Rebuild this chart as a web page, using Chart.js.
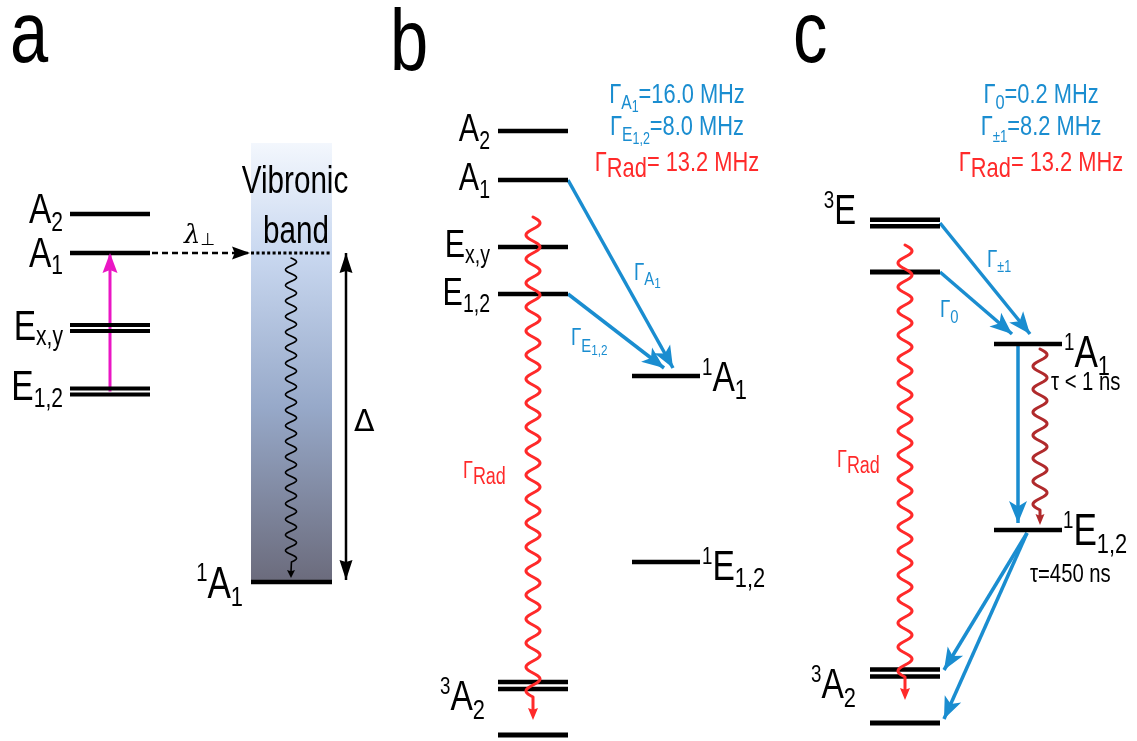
<!DOCTYPE html>
<html>
<head>
<meta charset="utf-8">
<title>NV centre level schemes</title>
<script src="https://cdn.jsdelivr.net/npm/chart.js@4.4.1/dist/chart.umd.min.js"></script>
<style>
  html, body { margin: 0; padding: 0; background: #ffffff; overflow: hidden; }
  #wrap { width: 1137px; height: 741px; }
</style>
</head>
<body>
<div id="wrap"><canvas id="chart" width="1137" height="741"></canvas></div>
<script>
// ---------------------------------------------------------------
// Level energies (diagram units, counted downward from the top)
// ---------------------------------------------------------------
const panelTags = ['a', 'b', 'c'];

// (a) excited-state fine structure and the phonon sideband
const aLevelNames  = ['A2', 'A1', 'Ex,y', 'E1,2'];
const aLevelEnergy = [214, 253, 328, 391.5];
const aLevelSplit  = [0, 0, 6, 6];
const aBandEnergy  = [143, 582];          // top of vibronic band, 1A1 floor

// (b) low-temperature picture
const bTripletNames  = ['A2', 'A1', 'Ex,y', 'E1,2'];
const bTripletEnergy = [131, 180, 247, 294];
const bSingletEnergy = [376, 562];
const bGroundEnergy  = [685.5, 735];
const bGroundSplit   = [7, 0];
const bRateValues    = ['16.0', '8.0', '13.2'];   // MHz: A1, E1,2, radiative

// (c) room-temperature picture
const cTripletEnergy = [223, 272];
const cTripletSplit  = [6.5, 0];
const cSingletEnergy = [344, 530];
const cGroundEnergy  = [673, 723];
const cGroundSplit   = [7, 0];
const cRateValues    = ['0.2', '8.2', '13.2'];    // MHz: ms=0, ms=±1, radiative
const cLifetimes     = ['< 1', '=450'];           // ns: 1A1, 1E1,2

// ---------------------------------------------------------------
// Layout
// ---------------------------------------------------------------
const W = 1137, H = 741;
const FONT = "'Liberation Sans', Arial, sans-serif";
const NARROW = 0.78;   // horizontal squeeze for the condensed look
const COL = {
  aL: [70, 150], aBand: [251, 332],
  bL: [498, 568], bR: [632, 700],
  cL: [870, 940], cR: [994, 1062]
};
const BLACK = '#000000', BLUE = '#1a8dd0', RED = '#ff2a2a', DARKRED = '#b02a2c', MAGENTA = '#ea16c4';

const datasets = [];

function levelSet(col, energies, splits, width) {
  energies.forEach((e, i) => {
    const s = splits ? splits[i] : 0;
    const ys = s ? [e - s / 2, e + s / 2] : [e];
    ys.forEach(y => datasets.push({
      data: [{ x: col[0], y: y }, { x: col[1], y: y }],
      showLine: true, borderColor: BLACK, borderWidth: s ? width - 0.5 : width,
      borderCapStyle: 'butt', pointRadius: 0
    }));
  });
}

function arrow(p0, p1, color, width, head, extra) {
  datasets.push(Object.assign({
    data: [{ x: p0[0], y: p0[1] }, { x: p1[0], y: p1[1] }],
    showLine: true, borderColor: color, borderWidth: width,
    borderCapStyle: 'butt', pointRadius: 0, arrowHead: Object.assign({ color: color }, head)
  }, extra || {}));
}

function wave(x, y0, y1, color, opts) {
  datasets.push({
    data: [{ x: x, y: y0 }, { x: x, y: y1 }],
    showLine: false, pointRadius: 0,
    waveLine: Object.assign({ color: color }, opts)
  });
}

// levels
levelSet(COL.aL, aLevelEnergy, aLevelSplit, 4.5);
levelSet(COL.aBand, [aBandEnergy[1]], null, 4.5);
levelSet(COL.bL, bTripletEnergy, null, 4.5);
levelSet(COL.bR, bSingletEnergy, null, 4.5);
levelSet(COL.bL, bGroundEnergy, bGroundSplit, 5);
levelSet(COL.cL, cTripletEnergy, cTripletSplit, 5);
levelSet(COL.cR, cSingletEnergy, null, 4.5);
levelSet(COL.cL, cGroundEnergy, cGroundSplit, 5);

// (a) transitions
const blueHead = { len: 22, wid: 18, notch: 0.25 };
arrow([110, aLevelEnergy[3]], [110, aLevelEnergy[1]], MAGENTA, 3, { len: 20, wid: 15, notch: 0.15 });
arrow([152, aLevelEnergy[1]], [250, aLevelEnergy[1]], BLACK, 2.5, { len: 18, wid: 13, notch: 0.15 }, { borderDash: [6, 4] });
datasets.push({
  data: [{ x: COL.aBand[0], y: aLevelEnergy[1] }, { x: COL.aBand[1], y: aLevelEnergy[1] }],
  showLine: true, borderColor: BLACK, borderWidth: 3, borderDash: [3, 2.4], pointRadius: 0
});
arrow([346, aLevelEnergy[1]], [346, aBandEnergy[1] - 2], BLACK, 2.5, { len: 20, wid: 13, notch: 0.1, both: true });
wave(291, aLevelEnergy[1] + 5, aBandEnergy[1] - 4, BLACK, { amp: 5.5, period: 15.6, lw: 1.6, len: 8, wid: 8 });

// (b) transitions
arrow([COL.bL[1], bTripletEnergy[1]], [673, bSingletEnergy[0] - 8], BLUE, 3.5, blueHead);
arrow([COL.bL[1], bTripletEnergy[3]], [664, bSingletEnergy[0] - 8], BLUE, 3.5, blueHead);
wave(533, 217, 720, RED, { amp: 7, period: 24, lw: 3, len: 12, wid: 10 });

// (c) transitions
arrow([COL.cL[1], cTripletEnergy[0]], [1030, cSingletEnergy[0] - 10], BLUE, 3.5, blueHead);
arrow([COL.cL[1], cTripletEnergy[1]], [1012, cSingletEnergy[0] - 10], BLUE, 3.5, blueHead);
arrow([1018, cSingletEnergy[0] + 2], [1018, cSingletEnergy[1] - 7], BLUE, 3.5, blueHead);
arrow([1027, cSingletEnergy[1] + 3], [944, cGroundEnergy[0] - 3], BLUE, 3.5, blueHead);
arrow([1027, cSingletEnergy[1] + 3], [944, cGroundEnergy[1] - 4], BLUE, 3.5, blueHead);
wave(905, 245, 700, RED, { amp: 7, period: 24, lw: 3, len: 12, wid: 10 });
wave(1040, cSingletEnergy[0] + 5, cSingletEnergy[1] - 5, DARKRED, { amp: 7, period: 23, lw: 3, len: 11, wid: 9 });

// ---------------------------------------------------------------
// Plugins
// ---------------------------------------------------------------
function drawHead(ctx, p0, p1, h) {
  const ang = Math.atan2(p1.y - p0.y, p1.x - p0.x);
  ctx.save();
  ctx.translate(p1.x, p1.y);
  ctx.rotate(ang);
  ctx.fillStyle = h.color;
  ctx.beginPath();
  ctx.moveTo(0, 0);
  ctx.lineTo(-h.len, -h.wid / 2);
  ctx.lineTo(-h.len * (1 - h.notch), 0);
  ctx.lineTo(-h.len, h.wid / 2);
  ctx.closePath();
  ctx.fill();
  ctx.restore();
}

const bandPlugin = {
  id: 'vibronicBand',
  beforeDatasetsDraw(chart) {
    const { ctx, scales: { x, y } } = chart;
    const x0 = x.getPixelForValue(COL.aBand[0]), x1 = x.getPixelForValue(COL.aBand[1]);
    const y0 = y.getPixelForValue(aBandEnergy[0]), y1 = y.getPixelForValue(aBandEnergy[1]);
    const g = ctx.createLinearGradient(0, y0, 0, y1);
    g.addColorStop(0, '#f3f7fd');
    g.addColorStop(0.25, '#c9d8f0');
    g.addColorStop(0.6, '#97a9c9');
    g.addColorStop(1, '#6b6b7c');
    ctx.save();
    ctx.fillStyle = g;
    ctx.fillRect(x0, y0, x1 - x0, y1 - y0);
    ctx.restore();
  }
};

const markPlugin = {
  id: 'marks',
  afterDatasetsDraw(chart) {
    const ctx = chart.ctx;
    chart.data.datasets.forEach((ds, i) => {
      const pts = chart.getDatasetMeta(i).data;
      if (ds.arrowHead) {
        drawHead(ctx, pts[0], pts[1], ds.arrowHead);
        if (ds.arrowHead.both) drawHead(ctx, pts[1], pts[0], ds.arrowHead);
      }
      if (ds.waveLine) {
        const w = ds.waveLine;
        const cx = pts[0].x, ya = pts[0].y, tip = pts[1].y;
        const avail = tip - ya - w.len - 4;
        const half = w.period / 2;
        const span = Math.floor(avail / half) * half;
        ctx.save();
        ctx.strokeStyle = w.color;
        ctx.lineWidth = w.lw;
        ctx.lineJoin = 'round';
        ctx.lineCap = 'round';
        ctx.beginPath();
        for (let s = 0; s <= span; s += 0.5) {
          const px = cx + w.amp * Math.sin(2 * Math.PI * s / w.period);
          if (s === 0) ctx.moveTo(px, ya + s); else ctx.lineTo(px, ya + s);
        }
        ctx.lineTo(cx, tip - w.len + 2);
        ctx.stroke();
        ctx.restore();
        drawHead(ctx, { x: cx, y: tip - 10 }, { x: cx, y: tip }, { color: w.color, len: w.len, wid: w.wid, notch: 0.15 });
      }
    });
  }
};

// rich text: runs of [text, size, dy, family?, style?]
function rich(ctx, runs, x, y, align, color) {
  let total = 0;
  const fam = r => `${r[4] || ''} ${r[1]}px ${r[3] || FONT}`;
  runs.forEach(r => {
    ctx.font = fam(r);
    r.sx = r[3] ? 1 : NARROW;
    r.w = ctx.measureText(r[0]).width * r.sx;
    total += r.w;
  });
  let cx = align === 'right' ? x - total : align === 'center' ? x - total / 2 : x;
  ctx.fillStyle = color || BLACK;
  ctx.textAlign = 'left';
  ctx.textBaseline = 'alphabetic';
  runs.forEach(r => {
    ctx.font = fam(r);
    ctx.save();
    ctx.translate(cx, y + r[2]);
    ctx.scale(r.sx, 1);
    ctx.fillText(r[0], 0, 0);
    ctx.restore();
    cx += r.w;
  });
}

const textPlugin = {
  id: 'labels',
  afterDraw(chart) {
    const { ctx, scales: { x, y } } = chart;
    const T = (runs, vx, vy, align, color) => rich(ctx, runs, x.getPixelForValue(vx), y.getPixelForValue(vy), align, color);
    ctx.save();

    // panel tags
    T([[panelTags[0], 88, 0]], 10, 62, 'left');
    T([[panelTags[1], 88, 0]], 390, 70, 'left');
    T([[panelTags[2], 88, 0]], 793, 62, 'left');

    // (a) state labels
    T([['A', 43, 0], ['2', 27, 8]], 63, 223, 'right');
    T([['A', 43, 0], ['1', 27, 7]], 63, 267, 'right');
    T([['E', 43, 0], ['x,y', 27, 5]], 63, 340, 'right');
    T([['E', 43, 0], ['1,2', 27, 7]], 63, 400, 'right');
    T([['1', 26, -17], ['A', 45, 0], ['1', 28, 8]], 243, 598, 'right');
    T([['Vibronic', 38, 0]], 295, 193, 'center');
    T([['band', 38, 0]], 296, 243, 'center');
    T([['\u03bb', 26, 0, "'DejaVu Serif', serif", 'italic'], ['\u22a5', 17, 2, "'DejaVu Sans', sans-serif"]], 184, 243, 'left');
    T([['\u0394', 30, 0, "'DejaVu Sans', sans-serif"]], 354, 431, 'left');

    // (b) labels
    T([['A', 39, 0], ['2', 25, 8]], 490, 141, 'right');
    T([['A', 39, 0], ['1', 25, 8]], 490, 190, 'right');
    T([['E', 39, 0], ['x,y', 25, 6]], 490, 257, 'right');
    T([['E', 39, 0], ['1,2', 25, 7]], 490, 305, 'right');
    T([['1', 24, -16], ['A', 43, 0], ['1', 28, 8]], 702, 391, 'left');
    T([['1', 24, -16], ['E', 43, 0], ['1,2', 28, 7]], 702, 580, 'left');
    T([['3', 24, -16], ['A', 43, 0], ['2', 28, 9]], 485, 710, 'right');
    T([['\u0393', 23, 0], ['Rad', 23, 6]], 463, 478, 'left', RED);
    T([['\u0393', 24, 0], ['A', 19, 5], ['1', 15, 8]], 634, 280, 'left', BLUE);
    T([['\u0393', 24, 0], ['E', 19, 7], ['1,2', 15, 10]], 571, 345, 'left', BLUE);
    T([['\u0393', 28, 0], ['A', 20, 6], ['1', 16, 9], ['=' + bRateValues[0] + ' MHz', 28, 0]], 677, 103, 'center', BLUE);
    T([['\u0393', 28, 0], ['E', 20, 6], ['1,2', 16, 9], ['=' + bRateValues[1] + ' MHz', 28, 0]], 677, 135, 'center', BLUE);
    T([['\u0393', 28, 0], ['Rad', 28, 6], ['= ' + bRateValues[2] + ' MHz', 28, 0]], 677, 171, 'center', RED);

    // (c) labels
    T([['3', 24, -16], ['E', 42, 0]], 856, 224, 'right');
    T([['1', 24, -17], ['A', 45, 0], ['1', 28, 8]], 1064, 367, 'left');
    T([['\u03c4 ' + cLifetimes[0] + ' ns', 26, 0]], 1051, 390, 'left');
    T([['1', 24, -17], ['E', 45, 0], ['1,2', 28, 8]], 1063, 545, 'left');
    T([['\u03c4' + cLifetimes[1] + ' ns', 26, 0]], 1030, 582, 'left');
    T([['3', 24, -16], ['A', 43, 0], ['2', 28, 9]], 856, 698, 'right');
    T([['\u0393', 23, 0], ['Rad', 23, 6]], 837, 467, 'left', RED);
    T([['\u0393', 24, 0], ['\u00b11', 16, 5]], 987, 267, 'left', BLUE);
    T([['\u0393', 24, 0], ['0', 19, 6]], 940, 317, 'left', BLUE);
    T([['\u0393', 28, 0], ['0', 21, 6], ['=' + cRateValues[0] + ' MHz', 28, 0]], 1041, 103, 'center', BLUE);
    T([['\u0393', 28, 0], ['\u00b11', 17, 7], ['=' + cRateValues[1] + ' MHz', 28, 0]], 1041, 135, 'center', BLUE);
    T([['\u0393', 28, 0], ['Rad', 28, 6], ['= ' + cRateValues[2] + ' MHz', 28, 0]], 1041, 171, 'center', RED);

    ctx.restore();
  }
};

new Chart(document.getElementById('chart'), {
  type: 'scatter',
  data: { datasets: datasets },
  options: {
    responsive: false,
    animation: false,
    events: [],
    layout: { padding: 0 },
    plugins: { legend: { display: false }, tooltip: { enabled: false } },
    elements: { point: { radius: 0, hoverRadius: 0 }, line: { tension: 0 } },
    scales: {
      x: { type: 'linear', min: 0, max: W, display: false },
      y: { type: 'linear', min: 0, max: H, reverse: true, display: false }
    }
  },
  plugins: [bandPlugin, markPlugin, textPlugin]
});
</script>
</body>
</html>
